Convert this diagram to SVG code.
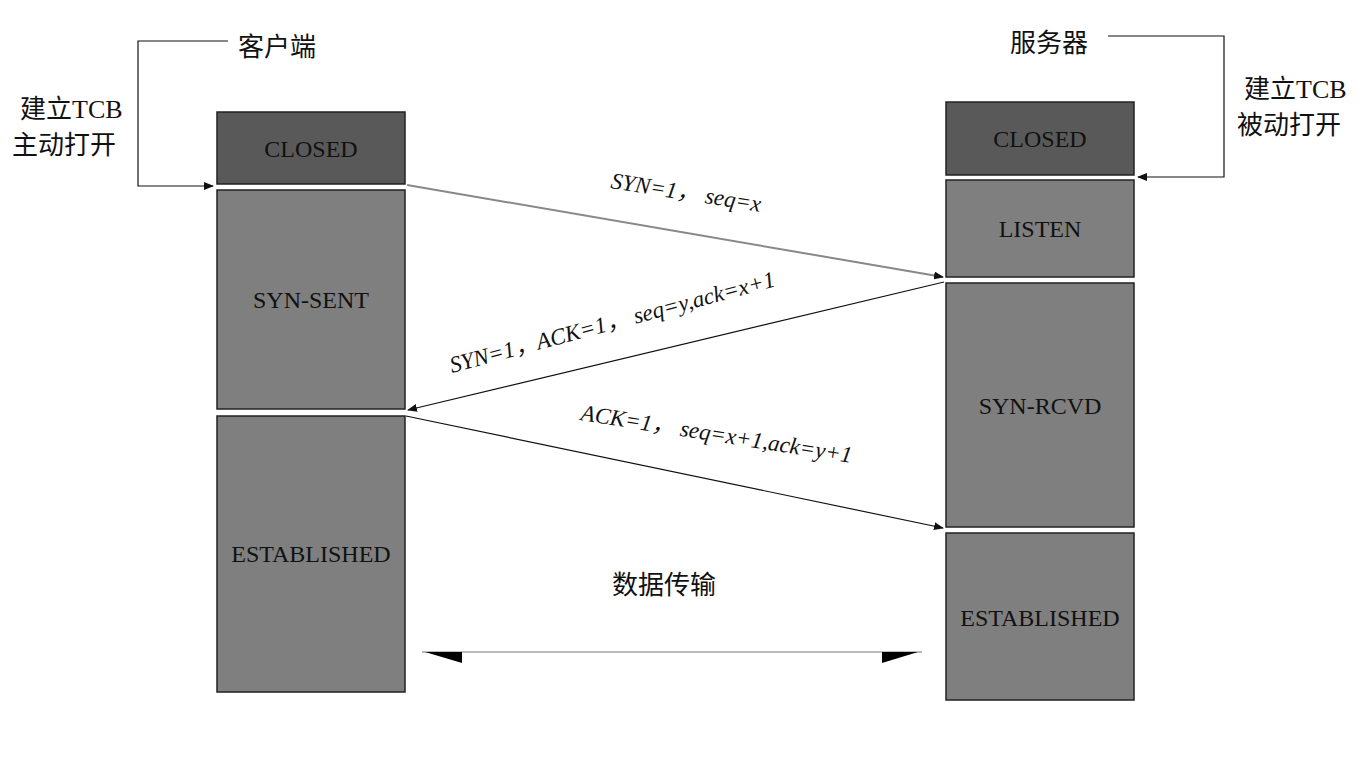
<svg xmlns="http://www.w3.org/2000/svg" width="1364" height="768" viewBox="0 0 1364 768">
<style>
.dk{fill:#595959;stroke:#222;stroke-width:1.5}
.md{fill:#7f7f7f;stroke:#222;stroke-width:1.5}
.t{font-family:"Liberation Serif","Noto Sans CJK SC",serif;font-size:24px;fill:#111;text-anchor:middle}
.c{font-family:"Liberation Serif","Noto Sans CJK SC",serif;font-size:26px;fill:#111}
.l{font-family:"Liberation Serif","Noto Sans CJK SC",serif;font-size:23px;fill:#111;font-style:italic}
.ln{stroke:#111;stroke-width:1.2;fill:none}
</style>
<defs>
<marker id="a" markerWidth="10" markerHeight="8" refX="9" refY="4" orient="auto" markerUnits="userSpaceOnUse"><path d="M0,0L10,4L0,8z" fill="#111"/></marker>
</defs>
<g id="c-closed"><rect class="dk" x="217" y="112" width="188" height="72"/><text class="t" x="311" y="157">CLOSED</text></g>
<g id="c-synsent"><rect class="md" x="217" y="190" width="188" height="219"/><text class="t" x="311" y="308">SYN-SENT</text></g>
<g id="c-est"><rect class="md" x="217" y="416" width="188" height="276"/><text class="t" x="311" y="562">ESTABLISHED</text></g>
<g id="s-closed"><rect class="dk" x="946" y="102" width="188" height="73"/><text class="t" x="1040" y="147">CLOSED</text></g>
<g id="s-listen"><rect class="md" x="946" y="180" width="188" height="97"/><text class="t" x="1040" y="237">LISTEN</text></g>
<g id="s-synrcvd"><rect class="md" x="946" y="283" width="188" height="244"/><text class="t" x="1040" y="414">SYN-RCVD</text></g>
<g id="s-est"><rect class="md" x="946" y="533" width="188" height="167"/><text class="t" x="1040" y="626">ESTABLISHED</text></g>
<g id="labels">
<text class="c" x="238" y="56">客户端</text>
<text class="c" x="1010" y="52">服务器</text>
<text class="c" x="20" y="118">建立TCB</text>
<text class="c" x="12" y="154">主动打开</text>
<text class="c" x="1244" y="98">建立TCB</text>
<text class="c" x="1237" y="134">被动打开</text>
<text class="c" x="612" y="594">数据传输</text>
<text class="l" transform="translate(610,188) rotate(9)">SYN=1， seq=x</text>
<text class="l" transform="translate(452,373) rotate(-15)">SYN=1，ACK=1， seq=y,ack=x+1</text>
<text class="l" transform="translate(580,420) rotate(9)">ACK=1， seq=x+1,ack=y+1</text>
</g>
<g id="connectors">
<path class="ln" d="M228,41H138V186H213" marker-end="url(#a)"/>
<path class="ln" d="M1108,36H1224V177H1138" marker-end="url(#a)"/>
<line x1="407" y1="185" x2="943" y2="277" stroke="#888" stroke-width="2" marker-end="url(#a)"/>
<line class="ln" x1="944" y1="282" x2="408" y2="410" marker-end="url(#a)"/>
<line class="ln" x1="406" y1="416" x2="943" y2="528" marker-end="url(#a)"/>
<line x1="422" y1="652" x2="922" y2="652" stroke="#bbb" stroke-width="2"/>
<path d="M425,652L462,652L462,663z" fill="#000"/>
<path d="M918,652L882,652L882,663z" fill="#000"/>
</g>
</svg>
